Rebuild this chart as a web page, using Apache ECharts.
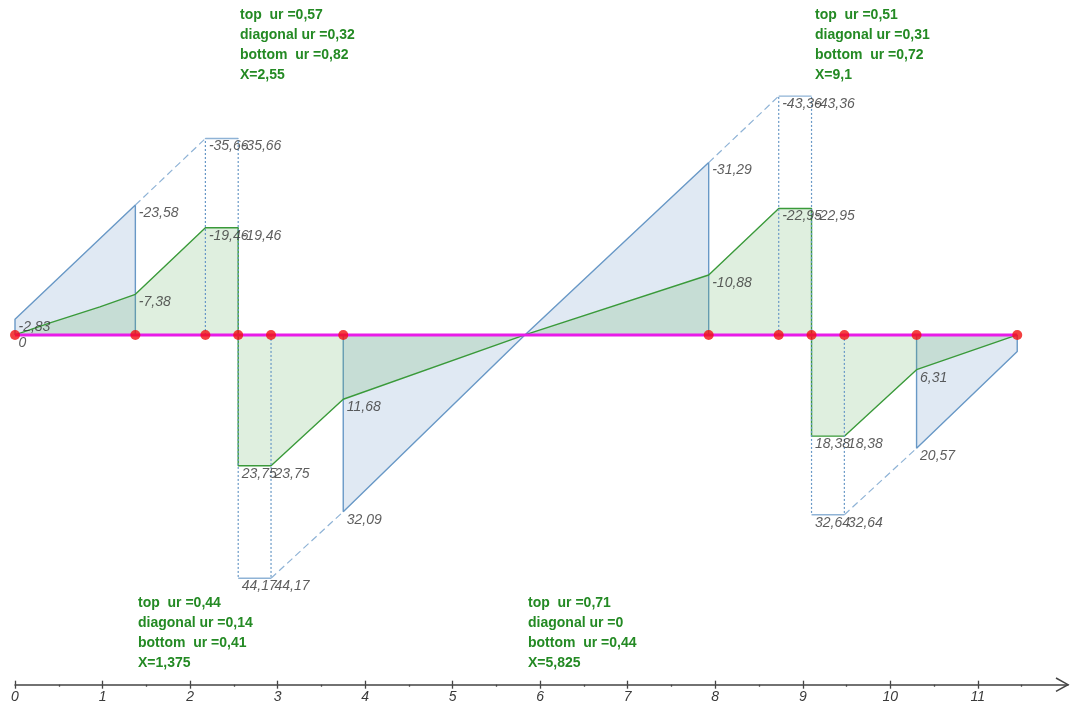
<!DOCTYPE html>
<html>
<head>
<meta charset="utf-8">
<script src="https://cdn.jsdelivr.net/npm/echarts@6/dist/echarts.min.js"></script>
<style>html,body{margin:0;padding:0;background:#fff}#c{width:1072px;height:705px}</style>
</head>
<body>
<div id="c"></div>
<script>
// ---- data ----
const sectionX = [0, 1.375, 2.175, 2.55, 2.925, 3.75, 7.925, 8.725, 9.1, 9.475, 10.3, 11.45];
const beamEnd = 11.45;
const blueSpan1 = [[0, 0], [0, -2.83], [1.375, -23.58], [1.375, 0]];
const blueSpan2 = [[3.75, 0], [3.75, 32.09], [5.825, 0], [7.925, -31.29], [7.925, 0]];
const blueSpan3 = [[10.3, 0], [10.3, 20.57], [11.45, 3.0], [11.45, 0]];
const greenCurve = [[0, 0], [0.4, -2.2], [0.97, -5.1], [1.375, -7.38], [2.175, -19.46], [2.55, -19.46],
  [2.55, 23.75], [2.925, 23.75], [3.75, 11.68], [5.825, 0], [7.925, -10.88], [8.725, -22.95],
  [9.1, -22.95], [9.1, 18.38], [9.475, 18.38], [10.3, 6.31], [11.45, 0]];
const supportBoxes = [[2.175, 2.55, -35.66], [2.55, 2.925, 44.17], [8.725, 9.1, -43.36], [9.1, 9.475, 32.64]];
const dashedLinks = [
  [[1.375, -23.58], [2.175, -35.66]],
  [[2.925, 44.17], [3.75, 32.09]],
  [[7.925, -31.29], [8.725, -43.36]],
  [[9.475, 32.64], [10.3, 20.57]]
];
const valueLabels = [[0, -2.83], [0, 0], [1.375, -23.58], [1.375, -7.38],
  [2.175, -35.66], [2.55, -35.66], [2.175, -19.46], [2.55, -19.46],
  [2.55, 23.75], [2.925, 23.75], [2.55, 44.17], [2.925, 44.17],
  [3.75, 11.68], [3.75, 32.09], [7.925, -31.29], [7.925, -10.88],
  [8.725, -43.36], [9.1, -43.36], [8.725, -22.95], [9.1, -22.95],
  [9.1, 18.38], [9.475, 18.38], [9.1, 32.64], [9.475, 32.64],
  [10.3, 6.31], [10.3, 20.57]];
const tickValues = [0, 1, 2, 3, 4, 5, 6, 7, 8, 9, 10, 11];
const minorTickValues = [0.5, 1.5, 2.5, 3.5, 4.5, 5.5, 6.5, 7.5, 8.5, 9.5, 10.5, 11.5];
const ratioBlocks = [
  {x: 240, y: 16, lines: ['top  ur =0,57', 'diagonal ur =0,32', 'bottom  ur =0,82', 'X=2,55']},
  {x: 815, y: 16, lines: ['top  ur =0,51', 'diagonal ur =0,31', 'bottom  ur =0,72', 'X=9,1']},
  {x: 138, y: 604, lines: ['top  ur =0,44', 'diagonal ur =0,14', 'bottom  ur =0,41', 'X=1,375']},
  {x: 528, y: 604, lines: ['top  ur =0,71', 'diagonal ur =0', 'bottom  ur =0,44', 'X=5,825']}
];

// ---- styles ----
const BLUE = '#6898c6';
const BLUE_FILL = 'rgba(110,150,200,0.3)';
const GREEN = '#3a9a3a';
const GREEN_FILL = 'rgba(85,170,85,0.27)';
const FONT = '"Liberation Sans", Arial, sans-serif';

const series = [];
[blueSpan1, blueSpan2, blueSpan3].forEach(d => series.push({
  type: 'line', data: d, symbol: 'none', silent: true, z: 2,
  lineStyle: {color: BLUE, width: 1.4}, areaStyle: {color: BLUE_FILL, origin: 0}
}));
series.push({
  type: 'line', data: greenCurve, symbol: 'none', silent: true, z: 3,
  lineStyle: {color: GREEN, width: 1.4}, areaStyle: {color: GREEN_FILL, origin: 0}
});
supportBoxes.forEach(b => {
  series.push({type: 'line', data: [[b[0], b[2]], [b[1], b[2]]], symbol: 'none', silent: true, z: 4,
    lineStyle: {color: '#8fb3d6', width: 1.4}});
  series.push({type: 'line', data: [[b[0], 0], [b[0], b[2]]], symbol: 'none', silent: true, z: 4,
    lineStyle: {color: '#6898c6', width: 1.2, type: [2, 2]}});
  series.push({type: 'line', data: [[b[1], 0], [b[1], b[2]]], symbol: 'none', silent: true, z: 4,
    lineStyle: {color: '#6898c6', width: 1.2, type: [2, 2]}});
});
dashedLinks.forEach(d => series.push({
  type: 'line', data: d, symbol: 'none', silent: true, z: 4,
  lineStyle: {color: '#8fb3d6', width: 1.2, type: [7, 4]}
}));
series.push({
  type: 'line', data: [[0, 0], [beamEnd, 0]], symbol: 'none', silent: true, z: 5,
  lineStyle: {color: '#e81ce8', width: 3}
});
series.push({
  type: 'scatter', data: sectionX.map(x => [x, 0]), symbolSize: 10, silent: true, z: 6,
  itemStyle: {color: '#f01010'}
});
series.push({
  type: 'scatter', data: valueLabels, symbolSize: 1, silent: true, z: 7,
  itemStyle: {color: 'rgba(0,0,0,0)'},
  label: {
    show: true, position: 'right', distance: 3, offset: [0, 8],
    fontFamily: FONT, fontStyle: 'italic', fontSize: 14, color: '#353535',
    formatter: p => String(p.value[1]).replace('.', ',')
  }
});

const graphic = [];
ratioBlocks.forEach(b => b.lines.forEach((t, i) => graphic.push({
  type: 'text', left: b.x, top: b.y + i * 20 - 8, silent: true,
  style: {text: t, fill: '#248a24', font: 'bold 14px ' + FONT}
})));
graphic.push({
  type: 'polyline', silent: true,
  shape: {points: [[1056, 678], [1068, 684.7], [1056, 691.4]]},
  style: {stroke: '#444', lineWidth: 1.5, fill: null}
});

const baseX = {type: 'value', min: 0, max: 12.03, position: 'bottom', splitLine: {show: false}};
const option = {
  animation: false,
  backgroundColor: '#fff',
  grid: {left: 15, right: 4, top: 5, bottom: 20.3},
  xAxis: [
    Object.assign({}, baseX, {
      axisLine: {show: true, onZero: false, lineStyle: {color: '#444', width: 1.5}},
      axisTick: {show: true, customValues: tickValues, length: 4, lineStyle: {color: '#444', width: 1.3}},
      axisLabel: {show: true, customValues: tickValues, margin: 5, fontFamily: FONT, fontStyle: 'italic',
        fontSize: 14, color: '#3a3a3a', formatter: v => String(v)}
    }),
    Object.assign({}, baseX, {
      axisLine: {show: false, onZero: false},
      axisTick: {show: true, inside: true, customValues: tickValues, length: 4, lineStyle: {color: '#444', width: 1.3}},
      axisLabel: {show: false}
    }),
    Object.assign({}, baseX, {
      axisLine: {show: false, onZero: false},
      axisTick: {show: true, customValues: minorTickValues, length: 2, lineStyle: {color: '#444', width: 1.3}},
      axisLabel: {show: false}
    })
  ],
  yAxis: {type: 'value', inverse: true, min: -59.9, max: 63.5, show: false, splitLine: {show: false}},
  series: series,
  graphic: graphic
};
const chart = echarts.init(document.getElementById('c'), null, {renderer: 'canvas'});
chart.setOption(option);
</script>
</body>
</html>
